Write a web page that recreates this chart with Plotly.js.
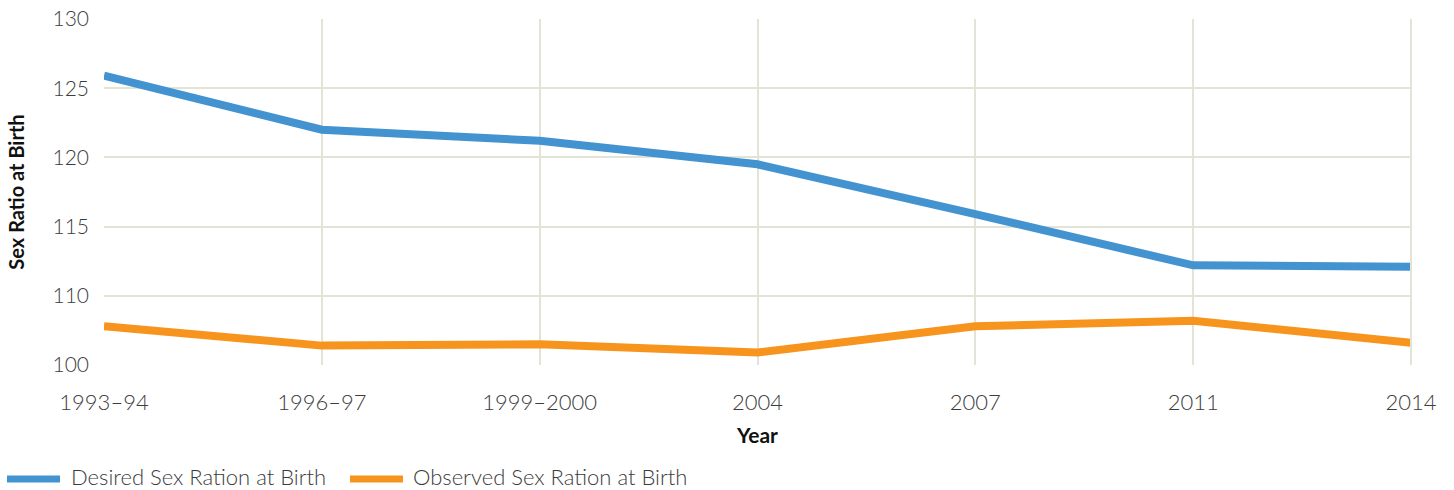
<!DOCTYPE html>
<html>
<head>
<meta charset="utf-8">
<script src="https://cdn.plot.ly/plotly-3.0.1.min.js"></script>
<style>html,body{margin:0;padding:0;background:#fff;}#chart{width:1454px;height:490px;}</style>
</head>
<body>
<div id="chart"></div>
<script>
const years = ['1993\u201394', '1996\u201397', '1999\u20132000', '2004', '2007', '2011', '2014'];
const desired = [125.9, 122.0, 121.2, 119.5, 115.9, 112.2, 112.1];
const observed = [107.8, 106.4, 106.5, 105.9, 107.8, 108.2, 106.6];
const seriesNames = ['Desired Sex Ration at Birth', 'Observed Sex Ration at Birth'];
const yTickVals = [105, 110, 115, 120, 125, 130];
const yTickText = ['100', '110', '115', '120', '125', '130'];

const colors = ['#4393d0', '#f7941d'];
const fam = 'Lato, "Open Sans", sans-serif';
const lightFont = (s) => ({family: fam, size: s, color: '#3c3c3c', weight: 300});

const traces = [
  {x: years, y: desired, name: seriesNames[0], type: 'scatter', mode: 'lines',
   line: {color: colors[0], width: 8}},
  {x: years, y: observed, name: seriesNames[1], type: 'scatter', mode: 'lines',
   line: {color: colors[1], width: 8}}
];

// plot area: x 104..1411 px, y 19..365 px
const PL = 104, PW = 1307, PT = 19, PH = 346;
const px2x = (p) => (p - PL) / PW;
const py2y = (p) => (PT + PH - p) / PH;

const legendItems = [
  {x0: 7, x1: 60, tx: 70},
  {x0: 350, x1: 403, tx: 412}
];
const legY = 479;

const shapes = [
  {type: 'line', xref: 'paper', yref: 'paper', x0: 1, x1: 1, y0: 0, y1: 1, line: {color: '#e4e4d6', width: 2}}
];
const annotations = [];
legendItems.forEach((it, i) => {
  shapes.push({type: 'line', xref: 'paper', yref: 'paper', x0: px2x(it.x0), x1: px2x(it.x1),
    y0: py2y(legY), y1: py2y(legY), line: {color: colors[i], width: 7}});
  annotations.push({xref: 'paper', yref: 'paper', x: px2x(it.tx), y: py2y(476), xanchor: 'left', yanchor: 'middle',
    text: seriesNames[i], showarrow: false, borderpad: 0, font: lightFont(22)});
});

const layout = {
  width: 1454, height: 490,
  margin: {l: PL, r: 1454 - PL - PW, t: PT, b: 490 - PT - PH},
  paper_bgcolor: '#ffffff', plot_bgcolor: '#ffffff',
  font: lightFont(20),
  showlegend: false,
  xaxis: {
    type: 'category', range: [0, 6],
    showgrid: true, gridcolor: '#e4e4d6', gridwidth: 2,
    zeroline: false, showline: false,
    ticks: '', tickfont: lightFont(22), ticklabelstandoff: 22,
    title: {text: 'Year', font: {family: fam, size: 21, color: '#111', weight: 700}, standoff: 14}
  },
  yaxis: {
    range: [105, 130], tickvals: yTickVals, ticktext: yTickText,
    showgrid: true, gridcolor: '#e4e4d6', gridwidth: 2,
    zeroline: false, showline: false, ticks: '', tickfont: lightFont(21), ticklabelstandoff: 14,
    title: {text: 'Sex Ratio at Birth', font: {family: fam, size: 20, color: '#111', weight: 700}, standoff: 22}
  },
  shapes: shapes,
  annotations: annotations
};

Plotly.newPlot('chart', traces, layout, {displayModeBar: false, staticPlot: true});
</script>
</body>
</html>
